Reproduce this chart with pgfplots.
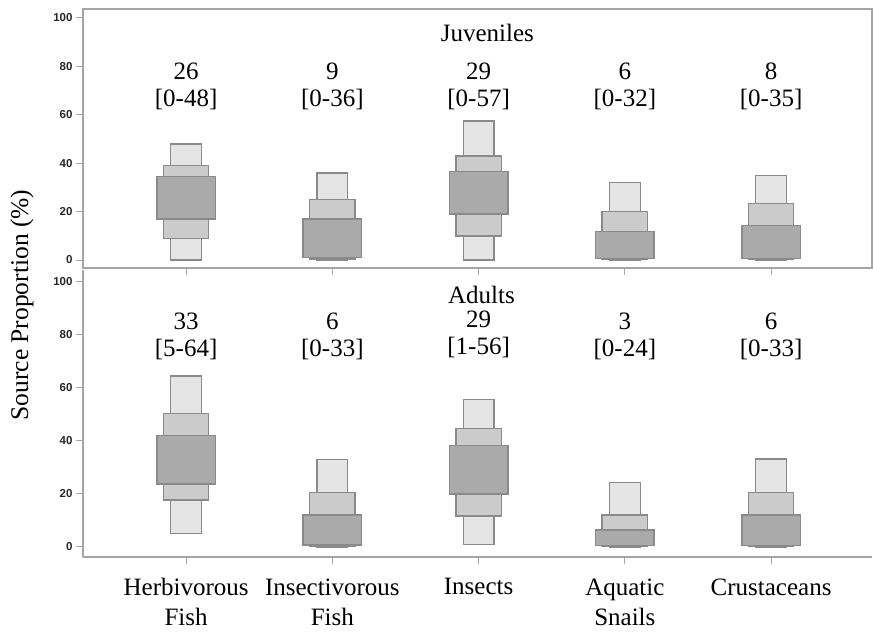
\documentclass[border=0pt]{standalone}
\usepackage{pgfplots}
\pgfplotsset{compat=1.18}
\usepackage{fontspec}
\setmainfont{Liberation Serif}
\setsansfont{Liberation Sans}
\definecolor{cL}{RGB}{229,229,229}
\definecolor{cM}{RGB}{203,203,203}
\definecolor{cD}{RGB}{170,170,170}
\definecolor{cB}{RGB}{138,138,138}
\definecolor{cAx}{RGB}{165,165,165}
\newcommand{\boxr}[5]{\addplot[#1] coordinates {(#2,#4) (#3,#4) (#3,#5) (#2,#5)} -- cycle;}
\tikzset{
  lbox/.style={fill=cL, draw=cB, line width=1.4pt},
  mbox/.style={fill=cM, draw=cB, line width=1.4pt},
  dbox/.style={fill=cD, draw=cB, line width=1.4pt},
  ann/.style={align=center, font=\fontsize{25}{27.5}\selectfont},
}
\pgfplotsset{
  panel/.style={
    scale only axis, width=789pt,
    xmin=-0.705, xmax=4.69,
    xtick={0,1,2,3,4},
    ytick={0,20,40,60,80,100},
    tick align=outside,
    major tick length=7pt,
    xtick pos=bottom, ytick pos=left,
    axis line style={cAx, line width=1.5pt},
    every tick/.style={cAx, line width=1pt},
    /pgf/number format/assume math mode=true,
    yticklabel style={font=\fontsize{11.5}{11.5}\selectfont\sffamily\bfseries, text=black!85},
    clip=false,
  },
}
\begin{document}
\begin{tikzpicture}
\useasboundingbox (0,0) rectangle (873pt,-635pt);
% ---------- Juveniles ----------
\begin{axis}[panel, at={(83pt,-268pt)}, anchor=south west, height=259pt,
  ymin=-3.3, ymax=103.7, xticklabels={}]
% Herbivorous Fish
\boxr{lbox}{-0.105}{0.105}{0}{48}
\boxr{mbox}{-0.155}{0.155}{9}{39}
\boxr{dbox}{-0.2}{0.2}{17}{34.5}
% Insectivorous Fish
\boxr{lbox}{0.895}{1.105}{0}{36}
\boxr{mbox}{0.845}{1.155}{0.4}{25}
\boxr{dbox}{0.8}{1.2}{1}{17}
% Insects
\boxr{lbox}{1.895}{2.105}{0}{57.5}
\boxr{mbox}{1.845}{2.155}{10}{43}
\boxr{dbox}{1.8}{2.2}{19}{36.5}
% Aquatic Snails
\boxr{lbox}{2.895}{3.105}{0}{32}
\boxr{mbox}{2.845}{3.155}{0.3}{20}
\boxr{dbox}{2.8}{3.2}{0.6}{11.7}
% Crustaceans
\boxr{lbox}{3.895}{4.105}{0}{35}
\boxr{mbox}{3.845}{4.155}{0.3}{23.4}
\boxr{dbox}{3.8}{4.2}{0.6}{14.3}
\node[ann] at (axis cs:2.06,93.8) {Juveniles};
\node[ann] at (axis cs:0,71.7) {26\\{}[0-48]};
\node[ann] at (axis cs:1,71.7) {9\\{}[0-36]};
\node[ann] at (axis cs:2,71.7) {29\\{}[0-57]};
\node[ann] at (axis cs:3,71.7) {6\\{}[0-32]};
\node[ann] at (axis cs:4,71.7) {8\\{}[0-35]};
\end{axis}
% ---------- Adults ----------
\begin{axis}[panel, at={(83pt,-557pt)}, anchor=south west, height=287pt,
  ymin=-3.8, ymax=104.5,
  axis x line*=bottom, axis y line*=left,
  xticklabels={{Herbivorous\\Fish},{Insectivorous\\Fish},{Insects},{Aquatic\\Snails},{Crustaceans}},
  xticklabel style={align=center, font=\fontsize{25}{30}\selectfont, text=black, yshift=-11pt},
  ]
% Herbivorous Fish
\boxr{lbox}{-0.105}{0.105}{5}{64.5}
\boxr{mbox}{-0.155}{0.155}{17.7}{50.4}
\boxr{dbox}{-0.2}{0.2}{23.8}{42}
% Insectivorous Fish
\boxr{lbox}{0.895}{1.105}{0}{33}
\boxr{mbox}{0.845}{1.155}{0.3}{20.6}
\boxr{dbox}{0.8}{1.2}{0.7}{12.1}
% Insects
\boxr{lbox}{1.895}{2.105}{1}{55.7}
\boxr{mbox}{1.845}{2.155}{11.7}{44.8}
\boxr{dbox}{1.8}{2.2}{20}{38.2}
% Aquatic Snails
\boxr{lbox}{2.895}{3.105}{0}{24.3}
\boxr{mbox}{2.845}{3.155}{0.3}{12.1}
\boxr{dbox}{2.8}{3.2}{0.6}{6.4}
% Crustaceans
\boxr{lbox}{3.895}{4.105}{0}{33.2}
\boxr{mbox}{3.845}{4.155}{0.3}{20.6}
\boxr{dbox}{3.8}{4.2}{0.6}{12.1}
\node[ann] at (axis cs:2.02,95.1) {Adults};
\node[ann] at (axis cs:0,79.4) {33\\{}[5-64]};
\node[ann] at (axis cs:1,79.4) {6\\{}[0-33]};
\node[ann] at (axis cs:2,80.2) {29\\{}[1-56]};
\node[ann] at (axis cs:3,79.4) {3\\{}[0-24]};
\node[ann] at (axis cs:4,79.4) {6\\{}[0-33]};
\end{axis}
\node[rotate=90, font=\fontsize{25.5}{25.5}\selectfont] at (22pt,-305pt) {Source Proportion (\%)};
\end{tikzpicture}
\end{document}
